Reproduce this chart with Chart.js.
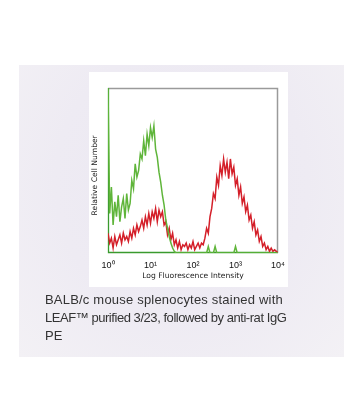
<!DOCTYPE html>
<html>
<head>
<meta charset="utf-8">
<script src="https://cdn.jsdelivr.net/npm/chart.js@4/dist/chart.umd.min.js"></script>
<style>
  html, body { margin: 0; padding: 0; background: #ffffff; }
  body { width: 352px; height: 408px; position: relative; overflow: hidden; }
  #lav { position: absolute; left: 19px; top: 65px; width: 325px; height: 292px;
         background: radial-gradient(ellipse at 50% 40%, #ebe8f2 0%, #eeebf3 55%, #f3f1f5 100%); }
  #panel { position: absolute; left: 89px; top: 72px; width: 199px; height: 215px; background: #ffffff; }
  #wrap { position: absolute; left: 0; top: 0; width: 352px; height: 408px; }
  #caption { position: absolute; left: 45px; top: 291px; width: 305px;
             font-family: "Liberation Sans", Arial, sans-serif; font-size: 13px; line-height: 18px; color: #333333; }
  #caption .l1 { letter-spacing: 0.2px; }
  #caption .l2 { letter-spacing: -0.45px; }
</style>
</head>
<body>
<div id="lav"></div>
<div id="panel"></div>
<div id="wrap"><canvas id="c" width="352" height="408"></canvas></div>
<div id="caption"><span class="l1">BALB/c mouse splenocytes stained with</span><br><span class="l2">LEAF™ purified 3/23, followed by anti-rat IgG</span><br>PE</div>
<script>
// log10 of fluorescence intensity for each histogram bin
const logBins = [
  0.00,0.04,0.08,0.12,0.16,0.20,0.24,0.28,0.32,0.36,
  0.40,0.44,0.48,0.52,0.56,0.60,0.64,0.68,0.72,0.76,
  0.80,0.84,0.88,0.92,0.96,1.00,1.04,1.08,1.12,1.16,
  1.20,1.24,1.28,1.32,1.36,1.40,1.44,1.48,1.52,1.56,
  1.60,1.64,1.68,1.72,1.76,1.80,1.84,1.88,1.92,1.96,
  2.00,2.04,2.08,2.12,2.16,2.20,2.24,2.28,2.32,2.36,
  2.40,2.44,2.48,2.52,2.56,2.60,2.64,2.68,2.72,2.76,
  2.80,2.84,2.88,2.92,2.96,3.00,3.04,3.08,3.12,3.16,
  3.20,3.24,3.28,3.32,3.36,3.40,3.44,3.48,3.52,3.56,
  3.60,3.64,3.68,3.72,3.76,3.80,3.84,3.88,3.92,3.96,
  4.00
];
// control (green) histogram, relative cell number
const controlCounts = [
  100,24,40,17,31,22,35,19,28,33,
  21,36,26,30,44,39,54,46,50,60,
  57,68,59,72,65,76,70,77,63,58,
  49,43,35,29,20,15,10,6,3,1,
  0,0,0,0,0,0,0,0,0,0,
  0,0,0,0,0,0,0,0,0,4,
  0,0,0,4,0,0,0,0,0,0,
  0,0,0,0,0,4,0,0,0,0,
  0,0,0,0,0,0,0,0,0,0,
  0,0,0,0,0,0,0,0,0,0,
  0
];
// LEAF purified 3/23 stained (red) histogram, relative cell number
const stainedCounts = [
  12,6,9,3,10,5,8,11,6,12,
  8,10,7,13,9,15,11,17,13,16,
  20,15,22,17,24,18,25,21,27,19,
  26,22,25,17,19,11,15,8,12,5,
  8,3,7,2,5,4,6,2,5,3,
  7,2,4,6,3,6,5,9,15,12,
  22,27,36,33,46,41,53,47,57,49,
  55,45,57,48,52,41,45,35,40,30,
  34,25,29,20,23,15,19,11,14,7,
  10,4,6,2,4,1,3,1,2,1,
  0
];
const decadeTicks = [0, 1, 2, 3, 4];
const decadeLabels = ['10\u2070', '10\u00b9', '10\u00b2', '10\u00b3', '10\u2074'];

const toPoints = (arr) => arr.map((v, i) => ({ x: logBins[i], y: v }));

const framePlugin = {
  id: 'frame',
  beforeDatasetsDraw(chart) {
    const a = chart.chartArea, ctx = chart.ctx;
    ctx.save();
    ctx.lineWidth = 1.5;
    ctx.strokeStyle = '#9a9a9a';
    ctx.beginPath();
    ctx.moveTo(a.left, a.top + 0.5);
    ctx.lineTo(a.right - 0.5, a.top + 0.5);
    ctx.lineTo(a.right - 0.5, a.bottom);
    ctx.stroke();
    ctx.strokeStyle = '#3a9a2e';
    ctx.lineWidth = 1.3;
    ctx.beginPath();
    ctx.moveTo(a.left + 0.5, a.top);
    ctx.lineTo(a.left + 0.5, a.bottom - 0.5);
    ctx.lineTo(a.right, a.bottom - 0.5);
    ctx.stroke();
    ctx.restore();
  }
};

new Chart(document.getElementById('c'), {
  type: 'line',
  data: {
    datasets: [
      { label: 'Control', data: toPoints(controlCounts), borderColor: '#5fb53a', borderWidth: 1.5,
        pointRadius: 0, tension: 0, fill: false },
      { label: 'LEAF purified 3/23', data: toPoints(stainedCounts), borderColor: '#d41f29', borderWidth: 1.5,
        pointRadius: 0, tension: 0, fill: false }
    ]
  },
  options: {
    responsive: false,
    animation: false,
    events: [],
    layout: { padding: { left: 90.6, top: 88, right: 74, bottom: 127 } },
    plugins: { legend: { display: false }, tooltip: { enabled: false } },
    scales: {
      x: {
        type: 'linear', min: 0, max: 4,
        grid: { display: false, drawTicks: false },
        border: { display: false },
        afterBuildTicks(scale) { scale.ticks = decadeTicks.map(v => ({ value: v })); },
        afterFit(scale) { scale.height = 28; },
        ticks: {
          autoSkip: false, maxRotation: 0, padding: 7.5, color: '#111',
          font: { family: 'Liberation Sans', size: 9 },
          callback: (v) => decadeLabels[decadeTicks.indexOf(v)]
        },
        title: { display: true, text: 'Log Fluorescence Intensity', color: '#222',
                 font: { family: 'DejaVu Sans', size: 7.6 }, padding: { top: 0, bottom: 0 } }
      },
      y: {
        min: 0, max: 100,
        grid: { display: false, drawTicks: false },
        border: { display: false },
        ticks: { display: false },
        afterFit(scale) { scale.width = 17.4; },
        title: { display: true, text: 'Relative Cell Number    ', color: '#222',
                 font: { family: 'DejaVu Sans', size: 7.6 }, padding: { top: 0, bottom: 9 } }
      }
    }
  },
  plugins: [framePlugin]
});
</script>
</body>
</html>
